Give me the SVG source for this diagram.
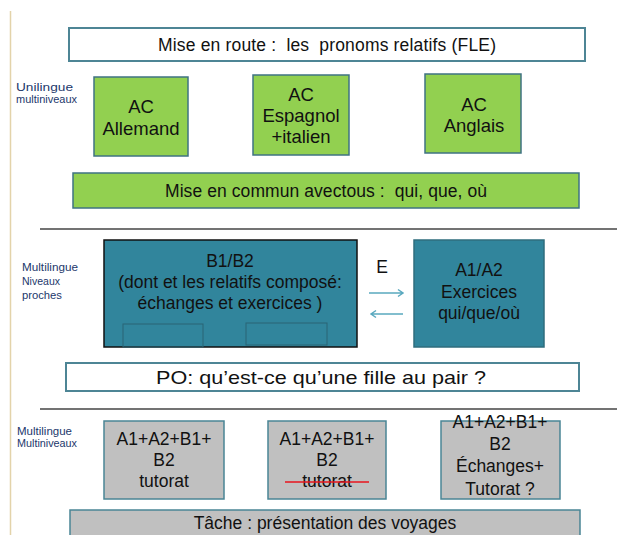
<svg xmlns="http://www.w3.org/2000/svg" width="617" height="535" viewBox="0 0 617 535">
<style>
text{font-family:"Liberation Sans",Arial,sans-serif;fill:#111;text-anchor:middle}
.side{font-size:10.5px;text-anchor:start;fill:#22376b}
.w{fill:#fff;stroke:#4d8595;stroke-width:2}
.g{fill:#92d050;stroke:#3f7382;stroke-width:1.5}
.t{fill:#31859c;stroke:#2f6d7d;stroke-width:1.5}
.gr{fill:#c0c0c0;stroke:#4a8595;stroke-width:1.5}
.f15{font-size:17.5px}
.f16{font-size:18.5px}
.sep{stroke:#444;stroke-width:1.5}
.arr{stroke:#5aa9bf;stroke-width:1.5;fill:none}
</style>
<line x1="10.5" y1="11" x2="10.5" y2="535" stroke="#e3d3aa" stroke-width="1.5"/>
<g id="labels">
<text class="side" x="16" y="91" textLength="57" lengthAdjust="spacingAndGlyphs">Unilingue</text>
<text class="side" x="16" y="103" textLength="61" lengthAdjust="spacingAndGlyphs">multiniveaux</text>
<text class="side" x="22" y="271" textLength="56" lengthAdjust="spacingAndGlyphs">Multilingue</text>
<text class="side" x="22" y="285" textLength="38" lengthAdjust="spacingAndGlyphs">Niveaux</text>
<text class="side" x="22" y="299" textLength="40" lengthAdjust="spacingAndGlyphs">proches</text>
<text class="side" x="17" y="435" textLength="55" lengthAdjust="spacingAndGlyphs">Multilingue</text>
<text class="side" x="17" y="447" textLength="60" lengthAdjust="spacingAndGlyphs">Multiniveaux</text>
</g>
<g id="separators">
<line class="sep" x1="40" y1="229" x2="617" y2="229"/>
<line class="sep" x1="40" y1="409" x2="617" y2="409"/>
</g>
<g id="mise-en-route">
<rect class="w" x="69" y="28" width="516" height="33"/>
<text class="f15" x="327" y="51" textLength="338" lengthAdjust="spacing" xml:space="preserve">Mise en route :  les  pronoms relatifs (FLE)</text>
</g>
<g id="ac-allemand">
<rect class="g" x="94" y="77" width="94" height="79"/>
<text class="f16" x="141" y="113">AC</text>
<text class="f16" x="141" y="135">Allemand</text>
</g>
<g id="ac-espagnol">
<rect class="g" x="253" y="75" width="96" height="80"/>
<text class="f16" x="301" y="101">AC</text>
<text class="f16" x="301" y="122">Espagnol</text>
<text class="f16" x="301" y="143">+italien</text>
</g>
<g id="ac-anglais">
<rect class="g" x="425" y="74" width="96" height="79"/>
<text class="f16" x="474" y="111">AC</text>
<text class="f16" x="474" y="132">Anglais</text>
</g>
<g id="mise-en-commun">
<rect class="g" x="73" y="173" width="506" height="35"/>
<text class="f15" x="326" y="197" textLength="322" lengthAdjust="spacing" xml:space="preserve">Mise en commun avectous :  qui, que, où</text>
</g>
<g id="b1b2">
<rect x="104" y="240" width="253" height="107" fill="#31859c" stroke="#111" stroke-width="1.5"/>
<rect x="123" y="324" width="80" height="23" fill="none" stroke="#2a6575" stroke-width="1"/>
<rect x="246" y="323" width="81" height="22" fill="none" stroke="#2a6575" stroke-width="1"/>
<text class="f15" x="230" y="267">B1/B2</text>
<text class="f15" x="230" y="288">(dont et les relatifs composé:</text>
<text class="f15" x="230" y="309">échanges et exercices )</text>
</g>
<g id="a1a2">
<rect class="t" x="414" y="240" width="130" height="107"/>
<text class="f15" x="479" y="276">A1/A2</text>
<text class="f15" x="479" y="298">Exercices</text>
<text class="f15" x="479" y="319">qui/que/où</text>
</g>
<g id="connectors">
<text class="f15" x="382" y="273">E</text>
<path class="arr" d="M369 293H403M398 289.5L403 293L398 296.5"/>
<path class="arr" d="M403 314H371M376 310.5L371 314L376 317.5"/>
</g>
<g id="po">
<rect class="w" x="66" y="363" width="513" height="28"/>
<text x="321" y="384" font-size="18.5" textLength="330" lengthAdjust="spacingAndGlyphs">PO: qu’est-ce qu’une fille au pair ?</text>
</g>
<g id="tutorat1">
<rect class="gr" x="104" y="421" width="120" height="78"/>
<text class="f15" x="164" y="445">A1+A2+B1+</text>
<text class="f15" x="164" y="466">B2</text>
<text class="f15" x="164" y="487">tutorat</text>
</g>
<g id="tutorat2">
<rect class="gr" x="268" y="421" width="118" height="78"/>
<text class="f15" x="327" y="445">A1+A2+B1+</text>
<text class="f15" x="327" y="466">B2</text>
<text class="f15" x="327" y="487">tutorat</text>
<line x1="285" y1="482" x2="369" y2="482" stroke="#e8141e" stroke-width="1.5"/>
</g>
<g id="tutorat3">
<rect class="gr" x="441" y="421" width="119" height="78"/>
<text class="f15" x="500" y="428">A1+A2+B1+</text>
<text class="f15" x="500" y="450">B2</text>
<text class="f15" x="500" y="472">Échanges+</text>
<text class="f15" x="500" y="495">Tutorat ?</text>
</g>
<g id="tache">
<rect class="gr" x="70" y="510" width="510" height="30"/>
<text class="f15" x="325" y="529">Tâche : présentation des voyages</text>
</g>
</svg>
